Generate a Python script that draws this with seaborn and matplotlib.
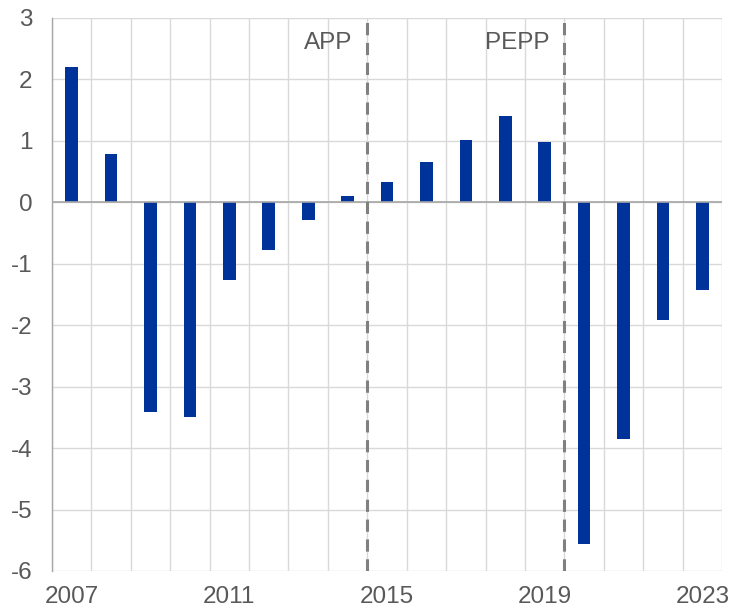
import numpy as np
import pandas as pd
import matplotlib
matplotlib.use("Agg")
import matplotlib.pyplot as plt
import seaborn as sns

# Data
years = [str(y) for y in range(2007, 2024)]
values = [2.21, 0.78, -3.41, -3.50, -1.26, -0.77, -0.29, 0.11,
          0.33, 0.65, 1.01, 1.41, 0.98, -5.56, -3.86, -1.92, -1.43]
shown_years = ["2007", "2011", "2015", "2019", "2023"]
programmes = ["APP", "PEPP"]
programme_start = ["2015", "2020"]  # dashed line sits just before these years

df = pd.DataFrame({"year": years, "value": values})

sns.set_style("white")
plt.rcParams["font.family"] = ["Liberation Sans", "DejaVu Sans"]
plt.rcParams["axes.unicode_minus"] = False

grey_text = "#595959"
fig = plt.figure(figsize=(7.3, 6.1), dpi=100)
ax = fig.add_axes([0.0712, 0.064, 0.918, 0.9065])

sns.barplot(data=df, x="year", y="value", color="#003399", width=0.32,
            linewidth=0, saturation=1, ax=ax)

n = len(years)
ax.set_xlim(-0.5, n - 0.5)
ax.set_ylim(-6, 3)
ax.set_yticks(range(-6, 4))

# gridlines on category boundaries
ax.set_xticks(np.arange(-0.5, n, 1), minor=True)
ax.set_xticks([years.index(y) for y in shown_years])
ax.set_xticklabels(shown_years)
ax.grid(True, which="minor", axis="x", color="#d9d9d9", linewidth=1)
ax.grid(True, which="major", axis="y", color="#d9d9d9", linewidth=1)
ax.grid(False, which="major", axis="x")
ax.set_axisbelow(True)

ax.axhline(0, color="#a6a6a6", linewidth=1.2, zorder=1)

for s in ["top", "right", "bottom"]:
    ax.spines[s].set_visible(False)
ax.spines["left"].set_color("#a6a6a6")
ax.spines["left"].set_linewidth(1)

ax.tick_params(axis="both", which="both", length=0, labelsize=17.5,
               labelcolor=grey_text)
ax.tick_params(axis="x", pad=11)
ax.tick_params(axis="y", pad=14)
ax.set_xlabel("")
ax.set_ylabel("")

for name, start in zip(programmes, programme_start):
    xpos = years.index(start) - 0.5
    ax.axvline(xpos, color="#808080", linewidth=2.2, linestyle=(0, (4, 2.5)),
               zorder=3)
    ax.text(xpos - 0.38, 2.6, name, ha="right", va="center",
            fontsize=17.5, color=grey_text)

fig.savefig("out.png", dpi=100)
